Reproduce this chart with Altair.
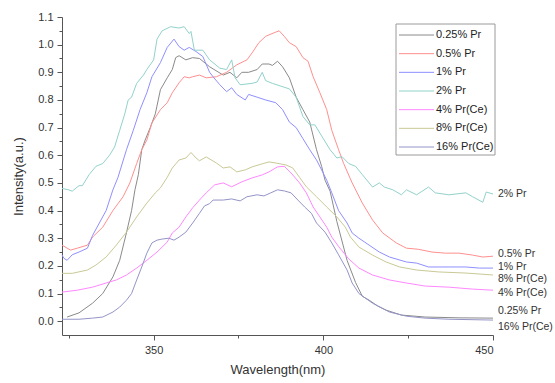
import altair as alt
import pandas as pd

# ---- data ----
series_names = ["0.25% Pr", "0.5% Pr", "1% Pr", "2% Pr", "4% Pr(Ce)", "8% Pr(Ce)", "16% Pr(Ce)"]

wl_025 = [324.5, 328, 332, 335, 338, 340, 342, 343.5, 344.5, 345.5, 346.5, 347.5, 349, 350.5, 352, 354, 355.5, 356.5, 357.5, 359.5, 361.5, 363.5, 366.5, 370.5, 372.5, 374.5, 376, 378, 380.5, 382, 384, 385, 386.5, 388, 390, 392, 394, 396, 398, 399.5, 400.5, 402, 404, 405.5, 407, 409.5, 411.5, 413.5, 416, 418.5, 423, 430, 440, 450]
in_025 = [0.015, 0.03, 0.065, 0.10, 0.16, 0.22, 0.32, 0.40, 0.475, 0.53, 0.62, 0.655, 0.70, 0.75, 0.837, 0.88, 0.91, 0.953, 0.96, 0.945, 0.953, 0.95, 0.92, 0.89, 0.90, 0.88, 0.90, 0.90, 0.91, 0.93, 0.93, 0.925, 0.94, 0.92, 0.88, 0.81, 0.765, 0.72, 0.62, 0.56, 0.51, 0.47, 0.36, 0.29, 0.22, 0.14, 0.09, 0.076, 0.055, 0.04, 0.022, 0.015, 0.012, 0.011]

wl_05 = [323, 325.5, 327.5, 330.5, 332, 335, 338, 341, 343, 345, 346.5, 348, 349.5, 352, 354, 355.5, 357.5, 359, 360.5, 361.5, 363.5, 365.5, 368.5, 371.5, 374.5, 377.5, 379, 381, 383, 385.5, 387, 388.5, 390, 392, 394, 395.5, 397, 399, 401, 402.5, 404.5, 406, 408.5, 411.5, 414.5, 417.5, 421.5, 424.5, 428, 432, 436, 440, 444, 447, 450]
in_05 = [0.275, 0.257, 0.264, 0.275, 0.304, 0.34, 0.40, 0.45, 0.50, 0.57, 0.62, 0.655, 0.717, 0.765, 0.79, 0.826, 0.862, 0.884, 0.88, 0.884, 0.89, 0.88, 0.884, 0.90, 0.927, 0.945, 0.97, 1.007, 1.03, 1.043, 1.05, 1.03, 1.007, 0.993, 0.953, 0.94, 0.884, 0.826, 0.765, 0.69, 0.62, 0.57, 0.50, 0.427, 0.366, 0.319, 0.283, 0.264, 0.26, 0.25, 0.246, 0.246, 0.239, 0.232, 0.235]

wl_1 = [323, 323.5, 324.5, 326, 328, 330.5, 332, 334, 336, 338, 339.5, 342, 344, 346, 348, 349.5, 352, 354, 356, 357.5, 359, 360.5, 362.5, 364.5, 366.5, 367.5, 369.5, 371.5, 373, 374.5, 377, 378, 380.5, 383, 386, 388, 390, 392, 394, 396, 398, 399.5, 401, 402.5, 404.5, 407, 408.5, 410.5, 413.5, 416.5, 419.5, 424.5, 427.5, 431, 437, 442, 446, 450]
in_1 = [0.24, 0.228, 0.22, 0.24, 0.25, 0.264, 0.31, 0.355, 0.40, 0.475, 0.52, 0.62, 0.69, 0.765, 0.826, 0.884, 0.935, 0.99, 1.02, 0.993, 0.98, 0.99, 0.975, 0.957, 0.90, 0.884, 0.855, 0.83, 0.844, 0.82, 0.80, 0.82, 0.81, 0.80, 0.79, 0.765, 0.72, 0.70, 0.66, 0.62, 0.583, 0.547, 0.51, 0.464, 0.40, 0.355, 0.319, 0.30, 0.275, 0.25, 0.232, 0.214, 0.21, 0.196, 0.196, 0.196, 0.192, 0.192]

wl_2 = [323, 325, 326, 328, 329, 331, 333, 335, 337, 338.5, 340, 341.5, 342.5, 343.5, 345, 347, 348, 350, 351, 352.5, 355, 357.5, 359, 360.5, 361, 362, 364.5, 366.5, 369.5, 371.5, 373, 374, 375.5, 379, 380.5, 382, 383, 385, 387.5, 390, 392, 394, 396, 397.5, 399.5, 402, 404, 405.5, 407.5, 409.5, 411.5, 413.5, 414.5, 416.5, 418, 420.5, 423, 424.5, 427.5, 431, 433, 437, 442, 444, 447, 448, 450]
in_2 = [0.48, 0.475, 0.47, 0.49, 0.49, 0.53, 0.56, 0.57, 0.60, 0.63, 0.69, 0.75, 0.80, 0.81, 0.86, 0.89, 0.91, 0.945, 1.02, 1.05, 1.065, 1.06, 1.065, 1.04, 1.048, 0.98, 0.98, 0.945, 0.915, 0.91, 0.945, 0.88, 0.855, 0.86, 0.865, 0.90, 0.87, 0.86, 0.85, 0.84, 0.81, 0.74, 0.71, 0.71, 0.67, 0.62, 0.59, 0.595, 0.57, 0.56, 0.53, 0.50, 0.485, 0.50, 0.485, 0.475, 0.457, 0.475, 0.457, 0.485, 0.464, 0.457, 0.464, 0.45, 0.43, 0.467, 0.46]

wl_4 = [323, 327.5, 332, 336, 339, 342, 345, 348, 351, 354, 355.5, 357.5, 359.5, 361.5, 363.5, 365.5, 368, 370.5, 373, 376, 379, 382, 384, 386.5, 388.5, 390.5, 393, 395, 397, 399, 401, 402.5, 404.5, 407.5, 410.5, 414.5, 419.5, 424.5, 430, 437, 444, 450]
in_4 = [0.105, 0.112, 0.123, 0.138, 0.149, 0.167, 0.192, 0.22, 0.25, 0.286, 0.319, 0.34, 0.377, 0.41, 0.438, 0.464, 0.493, 0.50, 0.486, 0.504, 0.518, 0.529, 0.54, 0.558, 0.56, 0.536, 0.50, 0.464, 0.413, 0.377, 0.34, 0.304, 0.27, 0.225, 0.192, 0.167, 0.149, 0.138, 0.127, 0.123, 0.116, 0.112]

wl_8 = [323, 326, 330.5, 333, 336, 339, 342, 345, 348, 350.5, 352, 354, 355.5, 357.5, 359.5, 361, 362.5, 363.5, 365.5, 368.5, 370.5, 372.5, 374.5, 377, 379, 382, 384, 386, 389, 391, 393, 395, 398, 401, 404, 406.5, 408, 410.5, 414.5, 418.5, 422.5, 427.5, 434, 442, 450]
in_8 = [0.173, 0.173, 0.185, 0.203, 0.232, 0.275, 0.322, 0.377, 0.427, 0.464, 0.482, 0.52, 0.554, 0.583, 0.59, 0.61, 0.59, 0.58, 0.594, 0.572, 0.554, 0.558, 0.54, 0.547, 0.558, 0.569, 0.576, 0.572, 0.565, 0.554, 0.52, 0.486, 0.45, 0.413, 0.377, 0.34, 0.304, 0.268, 0.239, 0.214, 0.196, 0.185, 0.178, 0.174, 0.167]

wl_16 = [323, 328, 332, 335, 338, 340, 342, 343.5, 345, 346.5, 348, 349.5, 351, 352.5, 354.5, 356, 357.5, 359.5, 361.5, 363.5, 365, 366.5, 367.5, 370.5, 373, 375.5, 377.5, 380.5, 382.5, 384.5, 386.5, 388.5, 390.5, 392.5, 394.5, 396.5, 398, 400.5, 402.5, 404.5, 407, 408.5, 410.5, 414.5, 419.5, 424.5, 430, 437, 450]
in_16 = [0.007, 0.007, 0.011, 0.015, 0.033, 0.051, 0.076, 0.10, 0.149, 0.196, 0.246, 0.283, 0.293, 0.297, 0.30, 0.293, 0.304, 0.322, 0.355, 0.39, 0.417, 0.425, 0.438, 0.438, 0.442, 0.435, 0.45, 0.457, 0.453, 0.464, 0.475, 0.471, 0.464, 0.438, 0.413, 0.39, 0.355, 0.322, 0.283, 0.24, 0.185, 0.138, 0.10, 0.065, 0.033, 0.018, 0.011, 0.007, 0.004]

x_tick_values = [325, 350, 375, 400, 425, 450]
y_tick_values = [round(i * 0.05, 2) for i in range(23)]

# ---- styles ----
colors = ["#8a8a8a", "#ff8f8f", "#8f8fff", "#92d2cb", "#ff88ff", "#c9c996", "#9494c8"]
label_dy = {"0.25% Pr": -7, "0.5% Pr": -2, "1% Pr": -1, "2% Pr": 0,
            "4% Pr(Ce)": 3, "8% Pr(Ce)": 4, "16% Pr(Ce)": 7}
FONT = "Liberation Sans"

wls = [wl_025, wl_05, wl_1, wl_2, wl_4, wl_8, wl_16]
ins = [in_025, in_05, in_1, in_2, in_4, in_8, in_16]

rows = []
for name, w, v in zip(series_names, wls, ins):
    for a, b in zip(w, v):
        rows.append({"series": name, "wavelength": a, "intensity": b})
df = pd.DataFrame(rows)

xscale = alt.Scale(domain=[323, 450], nice=False, zero=False)
yscale = alt.Scale(domain=[-0.05, 1.1], nice=False, zero=False)
cscale = alt.Scale(domain=series_names, range=colors)

x_axis = alt.Axis(
    title="Wavelength(nm)", values=x_tick_values,
    labelExpr="datum.value % 50 == 0 ? datum.label : ''",
    tickSize={"condition": {"test": "datum.value % 50 == 0", "value": 5}, "value": 3},
    grid=False, domainColor="#555555", tickColor="#555555", labelColor="#333333",
    labelFont=FONT, labelFontSize=11, titleFont=FONT, titleFontSize=13,
    titleFontWeight="normal", titleColor="#333333", labelPadding=4, titlePadding=8,
)
y_axis = alt.Axis(
    title="Intensity(a.u.)", values=y_tick_values,
    labelExpr="abs(datum.value*10 - round(datum.value*10)) < 0.01 ? format(datum.value, '.1f') : ''",
    tickSize={"condition": {"test": "abs(datum.value*10 - round(datum.value*10)) < 0.01", "value": 5}, "value": 3},
    grid=False, domainColor="#555555", tickColor="#555555", labelColor="#333333",
    labelFont=FONT, labelFontSize=11, titleFont=FONT, titleFontSize=13,
    titleFontWeight="normal", titleColor="#333333", labelPadding=4, titlePadding=12,
)

lines = alt.Chart(df).mark_line(strokeWidth=1, interpolate="linear").encode(
    x=alt.X("wavelength:Q", scale=xscale, axis=x_axis),
    y=alt.Y("intensity:Q", scale=yscale, axis=y_axis),
    color=alt.Color("series:N", scale=cscale, sort=series_names, legend=None),
    detail="series:N",
)

layers = [lines]
for name, w, v in zip(series_names, wls, ins):
    end_df = pd.DataFrame({"wavelength": [w[-1]], "intensity": [v[-1]], "label": [name]})
    layers.append(
        alt.Chart(end_df).mark_text(
            align="left", baseline="middle", dx=5, dy=label_dy[name],
            font=FONT, fontSize=10.5, color="#333333",
        ).encode(
            x=alt.X("wavelength:Q", scale=xscale),
            y=alt.Y("intensity:Q", scale=yscale, axis=None),
            text="label:N",
        )
    )

# ---- legend box (drawn as marks, positions in pixels inside the plot area) ----
legend_df = pd.DataFrame({"series": series_names})
leg_y = alt.Y("series:N", axis=None, sort=series_names,
              scale=alt.Scale(type="point", domain=series_names, range=[18, 130], padding=0))

legend_box = alt.Chart(pd.DataFrame({"k": [0]})).mark_rect(
    fill="white", stroke="#9a9a9a", strokeWidth=1
).encode(x=alt.value(334), x2=alt.value(433), y=alt.value(7), y2=alt.value(138))

legend_lines = alt.Chart(legend_df).mark_rule(strokeWidth=1).encode(
    x=alt.value(337), x2=alt.value(372), y=leg_y,
    color=alt.Color("series:N", scale=cscale, legend=None),
)
legend_text = alt.Chart(legend_df).mark_text(
    align="left", baseline="middle", font=FONT, fontSize=11, color="#222222"
).encode(x=alt.value(374), y=leg_y, text="series:N")

layers += [legend_box, legend_lines, legend_text]

chart = alt.layer(*layers).resolve_scale(y="independent").properties(
    width=431, height=318,
    padding={"left": 62, "top": 17, "right": 62, "bottom": 48},
    autosize=alt.AutoSizeParams(type="none"),
    background="white",
).configure_view(stroke=None)

chart.save("out.html", embed_options={"renderer": "svg", "actions": False})
